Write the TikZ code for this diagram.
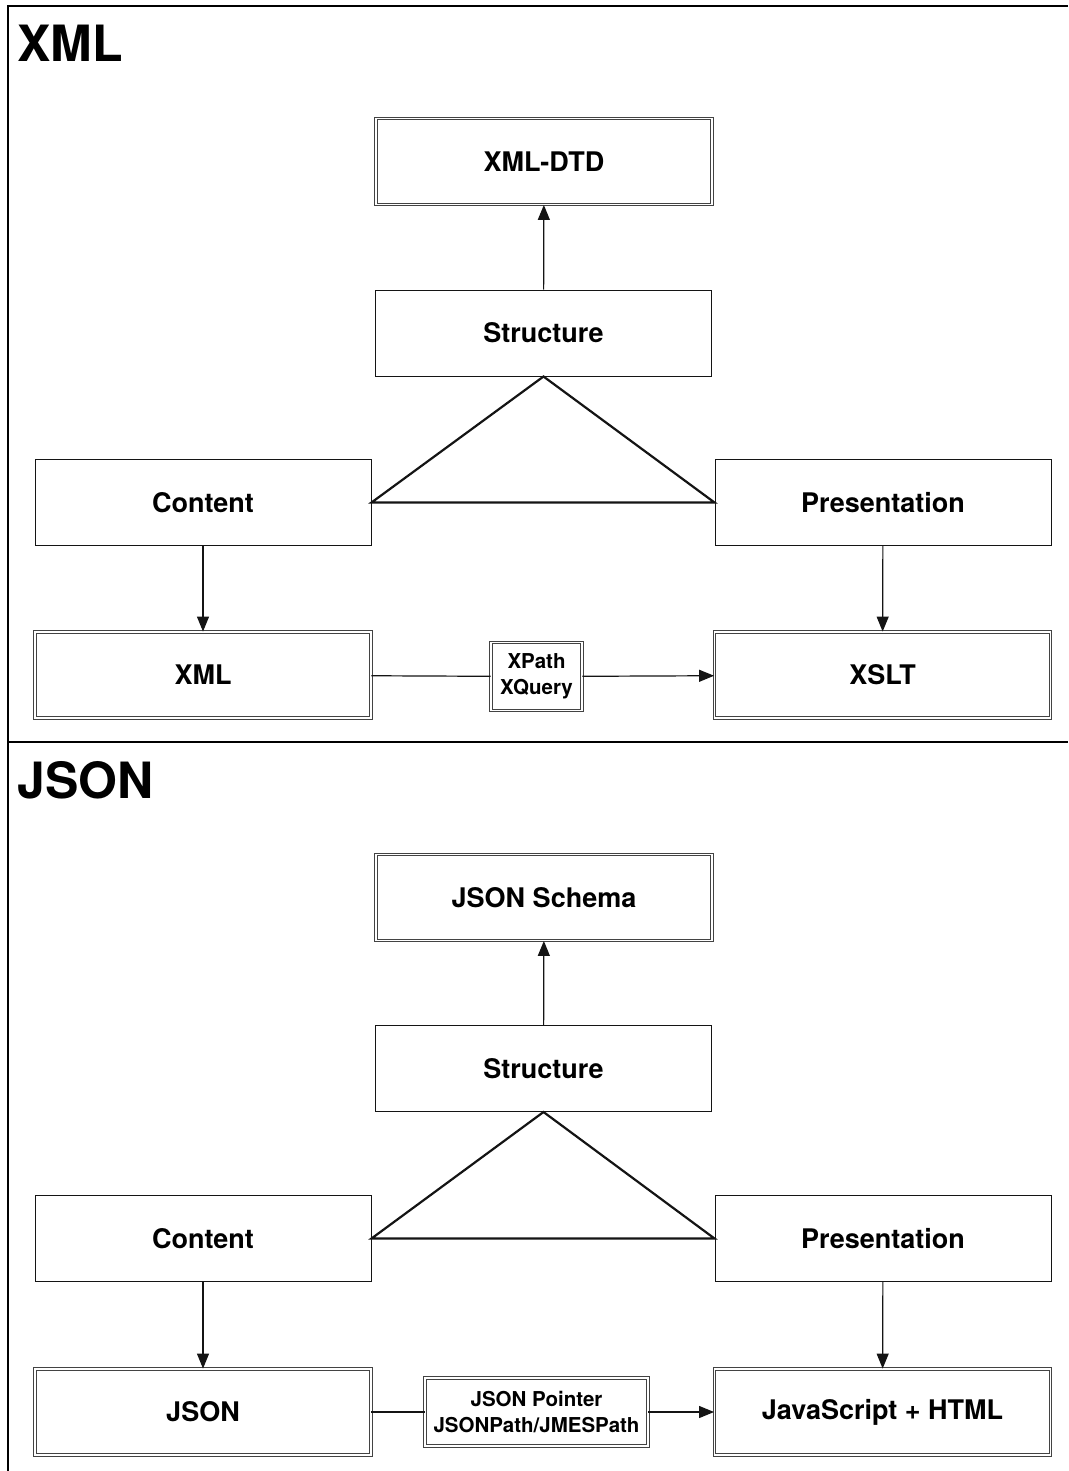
\documentclass[tikz,border=0pt]{standalone}
\usepackage{fontspec}
\setmainfont{TeX Gyre Heros}
\usetikzlibrary{arrows.meta, positioning}
\definecolor{linedark}{RGB}{20, 20, 20}

\begin{document}
\begin{tikzpicture}[
    x=1pt, y=-1pt,
    box/.style={rectangle, draw=linedark, line width=1pt, minimum width=336pt, minimum height=86pt, align=center, font=\fontsize{27}{32}\selectfont\bfseries},
    dblbox/.style={box, draw=linedark!80, double=white, double distance=1.4pt, line width=0.9pt},
    query/.style={dblbox, minimum height=68pt, inner sep=3pt, font=\fontsize{20.5}{26}\selectfont\bfseries},
    title/.style={anchor=base west, inner sep=0pt, font=\fontsize{50}{52}\selectfont\bfseries},
    arrow/.style={-{Triangle[length=15pt, width=12pt]}, line width=1.2pt, color=linedark},
    link/.style={line width=1.2pt, color=linedark},
    facet/.style={line width=2.2pt, color=linedark, line join=miter},
]
\useasboundingbox (0,0) rectangle (1068,1471);

% Frame and section divider
\draw[line width=1.4pt] (1068,6) -- (8,6) -- (8,1471);
\draw[line width=1.6pt] (8,742) -- (1068,742);

% XML section
\node[title] (xmltitle) at (17,62) {XML};
\node[dblbox] (dtd) at (544,161.5) {XML-DTD};
\node[box] (structX) at (543.5,333) {Structure};
\node[box] (contentX) at (203,502.5) {Content};
\node[box] (presX) at (883,502.5) {Presentation};
\node[dblbox] (xml) at (203,675) {XML};
\node[dblbox] (xslt) at (882.5,675) {XSLT};
\node[query, minimum width=91pt] (xpath) at (536.5,676.5) {XPath\\XQuery};

\draw[facet] (structX.south) -- (contentX.east) -- (presX.west) -- cycle;
\draw[arrow] (structX) -- (dtd);
\draw[arrow] (contentX) -- (xml);
\draw[arrow] (presX) -- (xslt);
\draw[link] (xml) -- (xpath);
\draw[arrow] (xpath) -- (xslt);

% JSON section
\node[title] (jsontitle) at (17,798) {JSON};
\node[dblbox] (schema) at (544,897.5) {JSON Schema};
\node[box] (structJ) at (543.5,1068.5) {Structure};
\node[box] (contentJ) at (203,1238.5) {Content};
\node[box] (presJ) at (883,1238.5) {Presentation};
\node[dblbox] (json) at (203,1412) {JSON};
\node[dblbox] (jshtml) at (882.5,1412) {JavaScript + HTML};
\node[query, minimum width=223pt] (jpointer) at (536.5,1412) {JSON Pointer\\JSONPath/JMESPath};

\draw[facet] (structJ.south) -- (contentJ.east) -- (presJ.west) -- cycle;
\draw[arrow] (structJ) -- (schema);
\draw[arrow] (contentJ) -- (json);
\draw[arrow] (presJ) -- (jshtml);
\draw[link] (json) -- (jpointer);
\draw[arrow] (jpointer) -- (jshtml);

\end{tikzpicture}
\end{document}
